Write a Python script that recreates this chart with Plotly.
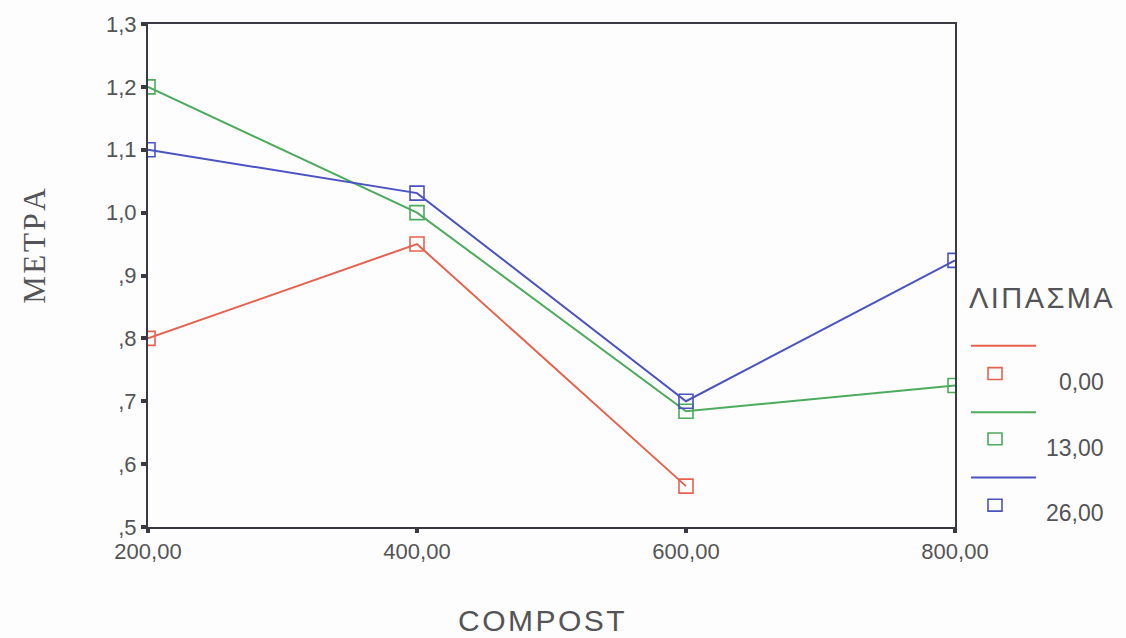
import plotly.graph_objects as go

# Data: mean height (ΜΕΤΡΑ) by compost dose, one series per fertiliser level
compost = [200, 400, 600, 800]
compost_labels = ["200,00", "400,00", "600,00", "800,00"]
series_names = ["0,00", "13,00", "26,00"]
metra_0 = [0.80, 0.95, 0.565, None]
metra_13 = [1.20, 1.00, 0.684, 0.725]
metra_26 = [1.10, 1.031, 0.70, 0.924]
y_ticks = [0.5, 0.6, 0.7, 0.8, 0.9, 1.0, 1.1, 1.2, 1.3]
y_tick_labels = [",5", ",6", ",7", ",8", ",9", "1,0", "1,1", "1,2", "1,3"]

colors = ["#e8614f", "#4cab5d", "#4b52c2"]
values = [metra_0, metra_13, metra_26]

W, H = 1126, 638
L, R, T, B = 148, 955, 19, 527  # plot area in pixels
HS = "\u200a"  # hair space used to open up the title lettering
TEXT = "#545458"

fig = go.Figure()
for name, vals, col in zip(series_names, values, colors):
    fig.add_trace(go.Scatter(
        x=compost, y=vals, name=name, mode="lines+markers",
        line=dict(color=col, width=2),
        marker=dict(symbol="square-open", size=14, color=col, line=dict(width=1.6)),
        connectgaps=False, showlegend=False,
    ))


def px_x(p):
    return (p - L) / (R - L)


def px_y(p):
    return (B - p) / (B - T)


shapes = []
annotations = []

# Hand-built legend: line, marker below it, label to the right
annotations.append(dict(
    x=px_x(1041), y=px_y(296), xref="paper", yref="paper",
    text=HS.join("ΛΙΠΑΣΜΑ"), showarrow=False, xanchor="center", yanchor="middle",
    font=dict(family="Liberation Sans, Arial", size=29, color=TEXT),
))
legend_rows = [(344, 372, 381), (411, 438, 447), (477, 505, 513)]
for (ly, my, ty), col, name in zip(legend_rows, colors, series_names):
    shapes.append(dict(type="line", xref="paper", yref="paper",
                       x0=px_x(971), x1=px_x(1036), y0=px_y(ly), y1=px_y(ly),
                       line=dict(color=col, width=2)))
    shapes.append(dict(type="rect", xref="paper", yref="paper",
                       x0=px_x(988), x1=px_x(1002), y0=px_y(my + 6), y1=px_y(my - 6),
                       line=dict(color=col, width=1.6)))
    annotations.append(dict(
        x=px_x(1106), y=px_y(ty), xref="paper", yref="paper",
        text=name, showarrow=False, xanchor="right", yanchor="middle",
        font=dict(family="Liberation Sans, Arial", size=23, color=TEXT),
    ))

# Axis titles
annotations.append(dict(
    x=px_x(541), y=px_y(621), xref="paper", yref="paper",
    text=HS.join("COMPOST"), showarrow=False, xanchor="center", yanchor="middle",
    font=dict(family="Liberation Sans, Arial", size=30, color=TEXT),
))
annotations.append(dict(
    x=px_x(35), y=px_y(243), xref="paper", yref="paper",
    text=HS.join("ΜΕΤΡΑ"), showarrow=False, xanchor="center", yanchor="middle",
    textangle=-90,
    font=dict(family="Liberation Serif, Times New Roman", size=31, color=TEXT),
))

fig.update_layout(
    width=W, height=H,
    margin=dict(l=L, r=W - R, t=T, b=H - B),
    paper_bgcolor="#fcfdfc", plot_bgcolor="#fcfdfc",
    shapes=shapes, annotations=annotations,
    xaxis=dict(
        range=[200, 800], tickvals=compost, ticktext=compost_labels,
        showgrid=False, zeroline=False,
        showline=True, linecolor="#3a3a44", linewidth=2, mirror=True,
        ticks="outside", ticklen=4, tickwidth=4, tickcolor="#3a3a44",
        tickfont=dict(family="Liberation Sans, Arial", size=22, color=TEXT),
    ),
    yaxis=dict(
        range=[0.5, 1.3], tickvals=y_ticks, ticktext=y_tick_labels,
        showgrid=False, zeroline=False,
        showline=True, linecolor="#3a3a44", linewidth=2, mirror=True,
        ticks="outside", ticklen=5, tickwidth=4, tickcolor="#3a3a44",
        tickfont=dict(family="Liberation Sans, Arial", size=22, color=TEXT),
    ),
)

fig.write_html("out.html")
